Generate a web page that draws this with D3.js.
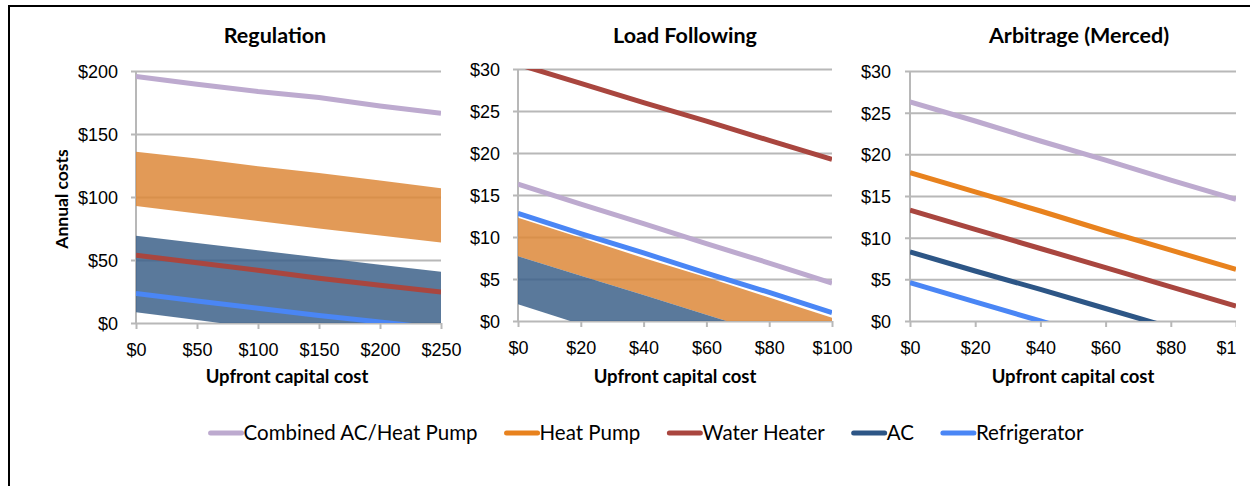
<!DOCTYPE html>
<html>
<head>
<meta charset="utf-8">
<script src="https://cdn.jsdelivr.net/npm/d3@7"></script>
<style>
  body { margin: 0; background: #fff; }
  svg { display: block; font-family: Lato, "Open Sans", sans-serif; }
</style>
</head>
<body>
<svg id="chart"></svg>
<script>
// legend / series
const seriesNames = ["Combined AC/Heat Pump", "Heat Pump", "Water Heater", "AC", "Refrigerator"]

// Regulation
const regX = [0, 50, 100, 150, 200, 250]
const regYTicks = [0, 50, 100, 150, 200]
const regCombined = [195.6, 189.5, 183.7, 179, 172.3, 166.5]
const regWaterHeater = [53.8, 47.8, 41.9, 35.5, 30, 24.6]
const regRefrigerator = [23.4, 17.5, 11.7, 6, 0.8, -4.5]
const regHeatPumpHigh = [136, 130.5, 124.5, 119, 113, 106.9]
const regHeatPumpLow = [92.8, 87, 81, 75, 69.5, 63.9]
const regAcHigh = [69.2, 63.5, 57.8, 52, 46.3, 40.6]
const regAcLow = [8.5, 2.3, -3.9, -10, -16.2, -22.4]

// Load Following
const lfX = [0, 20, 40, 60, 80, 100]
const lfYTicks = [0, 5, 10, 15, 20, 25, 30]
const lfWaterHeater = [30.55, 28.3, 26, 23.8, 21.5, 19.25]
const lfCombined = [16.3, 13.9, 11.6, 9.2, 6.9, 4.5]
const lfRefrigerator = [12.8, 10.4, 8.1, 5.7, 3.4, 1]
const lfHeatPumpHigh = [12.3, 9.9, 7.5, 5.2, 2.8, 0.4]
const lfHeatPumpLow = [7.7, 5.4, 3.1, 0.75, -1.6, -3.9]
const lfAcHigh = [7.7, 5.4, 3.1, 0.75, -1.6, -3.9]
const lfAcLow = [2, -0.4, -2.8, -5.2, -7.6, -10]

// Arbitrage (Merced)
const arbX = [0, 20, 40, 60, 80, 100]
const arbYTicks = [0, 5, 10, 15, 20, 25, 30]
const arbCombined = [26.3, 24, 21.6, 19.3, 16.9, 14.6]
const arbHeatPump = [17.8, 15.5, 13.2, 10.8, 8.5, 6.2]
const arbWaterHeater = [13.3, 11, 8.7, 6.4, 4.1, 1.8]
const arbAc = [8.3, 6, 3.8, 1.5, -0.8, -3]
const arbRefrigerator = [4.6, 2.3, 0, -2.3, -4.6, -6.9]

const colors = {
  combined: "#bdaacf", heatPump: "#e8821e", waterHeater: "#a9463f",
  ac: "#2d5686", refrigerator: "#4a86f5",
  heatPumpBand: "#dd8838", acBand: "#3d628a"
}
const legendColors = [colors.combined, colors.heatPump, colors.waterHeater, colors.ac, colors.refrigerator]

const dimensions = { width: 1250, height: 486, clipRight: 1236 }

const panels = [
  {
    title: "Regulation", titleX: 275, x: regX, yTicks: regYTicks,
    left: 136, right: 441, top: 71, bottom: 323, labelRight: 118, axisTitleX: 287,
    bands: [
      { hi: regHeatPumpHigh, lo: regHeatPumpLow, color: colors.heatPumpBand },
      { hi: regAcHigh, lo: regAcLow, color: colors.acBand }
    ],
    lines: [
      { v: regCombined, color: colors.combined },
      { v: regWaterHeater, color: colors.waterHeater },
      { v: regRefrigerator, color: colors.refrigerator }
    ]
  },
  {
    title: "Load Following", titleX: 685, x: lfX, yTicks: lfYTicks,
    left: 518, right: 832, top: 69, bottom: 321, labelRight: 500, axisTitleX: 675,
    bands: [
      { hi: lfHeatPumpHigh, lo: lfHeatPumpLow, color: colors.heatPumpBand },
      { hi: lfAcHigh, lo: lfAcLow, color: colors.acBand }
    ],
    lines: [
      { v: lfWaterHeater, color: colors.waterHeater },
      { v: lfCombined, color: colors.combined },
      { v: lfRefrigerator, color: colors.refrigerator }
    ]
  },
  {
    title: "Arbitrage (Merced)", titleX: 1079, x: arbX, yTicks: arbYTicks,
    left: 910, right: 1236, top: 71, bottom: 321, labelRight: 891, axisTitleX: 1073,
    bands: [],
    lines: [
      { v: arbCombined, color: colors.combined },
      { v: arbHeatPump, color: colors.heatPump },
      { v: arbWaterHeater, color: colors.waterHeater },
      { v: arbAc, color: colors.ac },
      { v: arbRefrigerator, color: colors.refrigerator }
    ]
  }
]

const svg = d3.select("#chart")
  .attr("width", dimensions.width)
  .attr("height", dimensions.height)

const defs = svg.append("defs")
defs.append("clipPath").attr("id", "clip-all")
  .append("rect").attr("x", 0).attr("y", 0).attr("width", dimensions.clipRight).attr("height", dimensions.height)
defs.append("filter").attr("id", "soft")
  .append("feGaussianBlur").attr("stdDeviation", 0.6)

// frame (top + left)
svg.append("path")
  .attr("d", `M9,${dimensions.height} L9,6 L${dimensions.width},6`)
  .attr("fill", "none").attr("stroke", "#000").attr("stroke-width", 2)

const content = svg.append("g").attr("clip-path", "url(#clip-all)")

const gridColor = "#b8b8b8"
const tickFont = "18px"

const drawPanel = (p, idx) => {
  const xScale = d3.scaleLinear().domain([p.x[0], p.x[p.x.length - 1]]).range([p.left, p.right])
  const yScale = d3.scaleLinear().domain([0, p.yTicks[p.yTicks.length - 1]]).range([p.bottom, p.top])
  const g = content.append("g")

  defs.append("clipPath").attr("id", "clip-" + idx)
    .append("rect").attr("x", p.left).attr("y", p.top)
    .attr("width", p.right - p.left).attr("height", p.bottom - p.top)

  // gridlines + y tick labels in one go
  const yAxis = d3.axisLeft(yScale).tickValues(p.yTicks).tickFormat(d => "$" + d)
    .tickSize(p.right - p.left + 5).tickPadding(p.left - 5 - p.labelRight)
  const yAxisGroup = g.append("g").attr("transform", `translate(${p.right},0)`).call(yAxis)
  yAxisGroup.select(".domain").remove()
  yAxisGroup.selectAll("line").attr("stroke", gridColor).attr("stroke-width", 2)
  yAxisGroup.selectAll("text").attr("fill", "#000").style("font-size", tickFont).attr("dy", "0.36em")

  const xAxis = d3.axisBottom(xScale).tickValues(p.x).tickFormat(d => "$" + d).tickSize(6).tickPadding(14)
  const xAxisGroup = g.append("g").attr("transform", `translate(0,${p.bottom})`).call(xAxis)
  xAxisGroup.select(".domain").remove()
  xAxisGroup.selectAll("line").attr("stroke", gridColor).attr("stroke-width", 2)
  xAxisGroup.selectAll("text").attr("fill", "#000").style("font-size", tickFont)

  g.append("line")
    .attr("x1", p.left).attr("x2", p.left).attr("y1", p.top).attr("y2", p.bottom)
    .attr("stroke", gridColor).attr("stroke-width", 2)

  const plot = g.append("g").attr("clip-path", `url(#clip-${idx})`)

  const area = d3.area()
    .x((d, i) => xScale(p.x[i]))
    .y0(d => yScale(d[0]))
    .y1(d => yScale(d[1]))

  p.bands.forEach(b => {
    plot.append("path")
      .datum(b.lo.map((lo, i) => [lo, b.hi[i]]))
      .attr("d", area)
      .attr("fill", b.color)
      .attr("fill-opacity", 0.85)
      .attr("filter", "url(#soft)")
  })

  const line = d3.line()
    .x((d, i) => xScale(p.x[i]))
    .y(d => yScale(d))

  p.lines.forEach(l => {
    plot.append("path")
      .datum(l.v)
      .attr("d", line)
      .attr("fill", "none")
      .attr("stroke", l.color)
      .attr("stroke-width", 5)
  })

  g.append("text")
    .attr("x", p.titleX).attr("y", 43)
    .attr("text-anchor", "middle")
    .style("font-size", "21.5px").style("font-weight", "bold")
    .text(p.title)

  g.append("text")
    .attr("x", p.axisTitleX).attr("y", 383)
    .attr("text-anchor", "middle")
    .style("font-size", "18.5px").style("font-weight", "bold")
    .text("Upfront capital cost")
}

panels.forEach(drawPanel)

content.append("text")
  .attr("transform", "translate(68,199) rotate(-90)")
  .attr("text-anchor", "middle")
  .style("font-size", "17.5px").style("font-weight", "bold")
  .text("Annual costs")

// legend, laid out from measured text widths
const legend = content.append("g")
const legendY = 433
const swatch = 31, swatchGap = 2, itemGap = 29
const items = seriesNames.map((name, i) => {
  const item = legend.append("g")
  item.append("line")
    .attr("x1", 0).attr("x2", swatch).attr("y1", legendY).attr("y2", legendY)
    .attr("stroke", legendColors[i]).attr("stroke-width", 5).attr("stroke-linecap", "round")
  const t = item.append("text")
    .attr("x", swatch + swatchGap).attr("y", legendY).attr("dy", "0.36em")
    .style("font-size", "20.5px")
    .text(name)
  return { item, w: swatch + swatchGap + t.node().getComputedTextLength() }
})
const totalW = d3.sum(items, d => d.w) + itemGap * (items.length - 1)
let cursor = 647 - totalW / 2
items.forEach(d => {
  d.item.attr("transform", `translate(${cursor},0)`)
  cursor += d.w + itemGap
})
</script>
</body>
</html>
